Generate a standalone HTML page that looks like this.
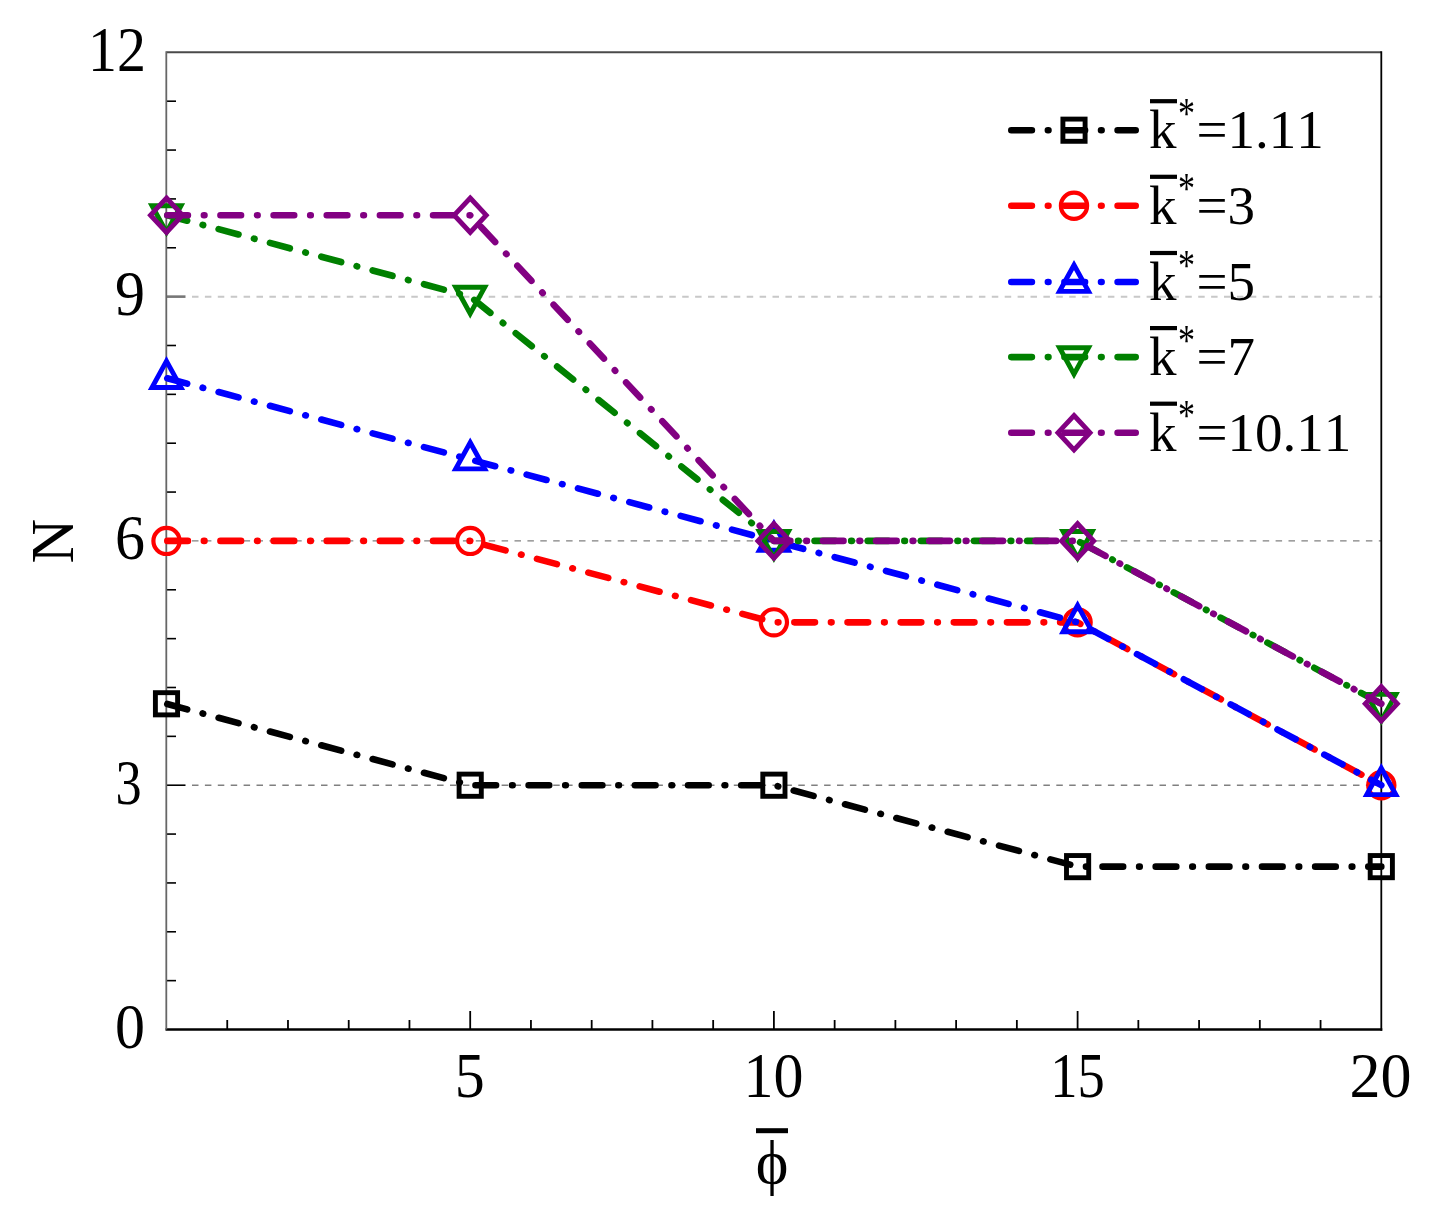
<!DOCTYPE html>
<html><head><meta charset="utf-8"><title>N vs phi</title>
<style>
html,body{margin:0;padding:0;background:#fff;}
body{width:1444px;height:1223px;overflow:hidden;}
svg{display:block;}
text{font-family:"Liberation Serif","Times New Roman",serif;fill:#000;font-kerning:none;}
</style></head><body>
<svg width="1444" height="1223" viewBox="0 0 1444 1223">
<rect width="1444" height="1223" fill="#fff"/>

<line x1="192" y1="785.21" x2="1381.3" y2="785.21" stroke="#808080" stroke-width="1.4" stroke-dasharray="6.5 6.4"/>
<line x1="192" y1="540.92" x2="1381.3" y2="540.92" stroke="#808080" stroke-width="1.4" stroke-dasharray="6.5 6.4"/>
<line x1="192" y1="296.63" x2="1381.3" y2="296.63" stroke="#c8c8c8" stroke-width="2" stroke-dasharray="6.5 6.4"/>
<line x1="166.5" y1="980.64" x2="176.0" y2="980.64" stroke="#000" stroke-width="1.6"/>
<line x1="166.5" y1="931.78" x2="176.0" y2="931.78" stroke="#000" stroke-width="1.6"/>
<line x1="166.5" y1="882.93" x2="176.0" y2="882.93" stroke="#000" stroke-width="1.6"/>
<line x1="166.5" y1="834.07" x2="176.0" y2="834.07" stroke="#000" stroke-width="1.6"/>
<line x1="166.5" y1="785.21" x2="185.5" y2="785.21" stroke="#000" stroke-width="1.6"/>
<line x1="166.5" y1="736.35" x2="176.0" y2="736.35" stroke="#000" stroke-width="1.6"/>
<line x1="166.5" y1="687.49" x2="176.0" y2="687.49" stroke="#000" stroke-width="1.6"/>
<line x1="166.5" y1="638.64" x2="176.0" y2="638.64" stroke="#000" stroke-width="1.6"/>
<line x1="166.5" y1="589.78" x2="176.0" y2="589.78" stroke="#000" stroke-width="1.6"/>
<line x1="166.5" y1="540.92" x2="185.5" y2="540.92" stroke="#000" stroke-width="1.6"/>
<line x1="166.5" y1="492.06" x2="176.0" y2="492.06" stroke="#000" stroke-width="1.6"/>
<line x1="166.5" y1="443.20" x2="176.0" y2="443.20" stroke="#000" stroke-width="1.6"/>
<line x1="166.5" y1="394.35" x2="176.0" y2="394.35" stroke="#000" stroke-width="1.6"/>
<line x1="166.5" y1="345.49" x2="176.0" y2="345.49" stroke="#000" stroke-width="1.6"/>
<line x1="166.5" y1="296.63" x2="185.5" y2="296.63" stroke="#777" stroke-width="2.6"/>
<line x1="166.5" y1="247.77" x2="176.0" y2="247.77" stroke="#000" stroke-width="1.6"/>
<line x1="166.5" y1="198.91" x2="176.0" y2="198.91" stroke="#000" stroke-width="1.6"/>
<line x1="166.5" y1="150.06" x2="176.0" y2="150.06" stroke="#000" stroke-width="1.6"/>
<line x1="166.5" y1="101.20" x2="176.0" y2="101.20" stroke="#000" stroke-width="1.6"/>
<line x1="227.24" y1="1029.5" x2="227.24" y2="1020.0" stroke="#000" stroke-width="1.8"/>
<line x1="287.98" y1="1029.5" x2="287.98" y2="1020.0" stroke="#000" stroke-width="1.8"/>
<line x1="348.72" y1="1029.5" x2="348.72" y2="1020.0" stroke="#000" stroke-width="1.8"/>
<line x1="409.46" y1="1029.5" x2="409.46" y2="1020.0" stroke="#000" stroke-width="1.8"/>
<line x1="470.20" y1="1029.5" x2="470.20" y2="1011.0" stroke="#000" stroke-width="1.8"/>
<line x1="530.94" y1="1029.5" x2="530.94" y2="1020.0" stroke="#000" stroke-width="1.8"/>
<line x1="591.68" y1="1029.5" x2="591.68" y2="1020.0" stroke="#000" stroke-width="1.8"/>
<line x1="652.42" y1="1029.5" x2="652.42" y2="1020.0" stroke="#000" stroke-width="1.8"/>
<line x1="713.16" y1="1029.5" x2="713.16" y2="1020.0" stroke="#000" stroke-width="1.8"/>
<line x1="773.90" y1="1029.5" x2="773.90" y2="1011.0" stroke="#000" stroke-width="1.8"/>
<line x1="834.64" y1="1029.5" x2="834.64" y2="1020.0" stroke="#000" stroke-width="1.8"/>
<line x1="895.38" y1="1029.5" x2="895.38" y2="1020.0" stroke="#000" stroke-width="1.8"/>
<line x1="956.12" y1="1029.5" x2="956.12" y2="1020.0" stroke="#000" stroke-width="1.8"/>
<line x1="1016.86" y1="1029.5" x2="1016.86" y2="1020.0" stroke="#000" stroke-width="1.8"/>
<line x1="1077.60" y1="1029.5" x2="1077.60" y2="1011.0" stroke="#000" stroke-width="1.8"/>
<line x1="1138.34" y1="1029.5" x2="1138.34" y2="1020.0" stroke="#000" stroke-width="1.8"/>
<line x1="1199.08" y1="1029.5" x2="1199.08" y2="1020.0" stroke="#000" stroke-width="1.8"/>
<line x1="1259.82" y1="1029.5" x2="1259.82" y2="1020.0" stroke="#000" stroke-width="1.8"/>
<line x1="1320.56" y1="1029.5" x2="1320.56" y2="1020.0" stroke="#000" stroke-width="1.8"/>
<line x1="166.5" y1="52.34" x2="1381.30" y2="52.34" stroke="#4a4a4a" stroke-width="2"/>
<line x1="1381.30" y1="51.34" x2="1381.30" y2="1030.70" stroke="#000" stroke-width="1.8"/>
<line x1="165.5" y1="1029.50" x2="1382.30" y2="1029.50" stroke="#000" stroke-width="2.3"/>
<line x1="166.3" y1="51.34" x2="166.3" y2="1029.50" stroke="#666" stroke-width="1.8"/>
<polyline points="166.50,703.78 470.20,785.21 773.90,785.21 1077.60,866.64 1381.30,866.64" fill="none" stroke="#000000" stroke-width="6.6" stroke-dasharray="20.6 15.975 0.6 15.975" stroke-dashoffset="-0.8" stroke-linejoin="round" stroke-linecap="round"/>
<rect x="155.40" y="692.68" width="22.20" height="22.20" fill="none" stroke="#000000" stroke-width="4.9" stroke-linejoin="miter"/>
<rect x="459.10" y="774.11" width="22.20" height="22.20" fill="none" stroke="#000000" stroke-width="4.9" stroke-linejoin="miter"/>
<rect x="762.80" y="774.11" width="22.20" height="22.20" fill="none" stroke="#000000" stroke-width="4.9" stroke-linejoin="miter"/>
<rect x="1066.50" y="855.54" width="22.20" height="22.20" fill="none" stroke="#000000" stroke-width="4.9" stroke-linejoin="miter"/>
<rect x="1370.20" y="855.54" width="22.20" height="22.20" fill="none" stroke="#000000" stroke-width="4.9" stroke-linejoin="miter"/>
<polyline points="166.50,540.92 470.20,540.92 773.90,622.35 1077.60,622.35 1381.30,785.21" fill="none" stroke="#ff0000" stroke-width="6.6" stroke-dasharray="20.6 15.975 0.6 15.975" stroke-dashoffset="-0.8" stroke-linejoin="round" stroke-linecap="round"/>
<circle cx="166.50" cy="540.92" r="13.1" fill="none" stroke="#ff0000" stroke-width="4.2" stroke-linejoin="miter"/>
<circle cx="470.20" cy="540.92" r="13.1" fill="none" stroke="#ff0000" stroke-width="4.2" stroke-linejoin="miter"/>
<circle cx="773.90" cy="622.35" r="13.1" fill="none" stroke="#ff0000" stroke-width="4.2" stroke-linejoin="miter"/>
<circle cx="1077.60" cy="622.35" r="13.1" fill="none" stroke="#ff0000" stroke-width="4.2" stroke-linejoin="miter"/>
<circle cx="1381.30" cy="785.21" r="13.1" fill="none" stroke="#ff0000" stroke-width="4.2" stroke-linejoin="miter"/>
<polyline points="166.50,378.06 470.20,459.49 773.90,540.92 1077.60,622.35 1381.30,785.21" fill="none" stroke="#0000ff" stroke-width="6.6" stroke-dasharray="20.6 15.975 0.6 15.975" stroke-dashoffset="-0.8" stroke-linejoin="round" stroke-linecap="round"/>
<polygon points="166.50,361.06 181.00,387.46 152.00,387.46" fill="none" stroke="#0000ff" stroke-width="4.9" stroke-linejoin="miter"/>
<polygon points="470.20,442.49 484.70,468.89 455.70,468.89" fill="none" stroke="#0000ff" stroke-width="4.9" stroke-linejoin="miter"/>
<polygon points="773.90,523.92 788.40,550.32 759.40,550.32" fill="none" stroke="#0000ff" stroke-width="4.9" stroke-linejoin="miter"/>
<polygon points="1077.60,605.35 1092.10,631.75 1063.10,631.75" fill="none" stroke="#0000ff" stroke-width="4.9" stroke-linejoin="miter"/>
<polygon points="1381.30,768.21 1395.80,794.61 1366.80,794.61" fill="none" stroke="#0000ff" stroke-width="4.9" stroke-linejoin="miter"/>
<polyline points="166.50,215.20 470.20,296.63 773.90,540.92 1077.60,540.92 1381.30,703.78" fill="none" stroke="#008000" stroke-width="6.6" stroke-dasharray="20.6 15.975 0.6 15.975" stroke-dashoffset="-0.8" stroke-linejoin="round" stroke-linecap="round"/>
<polygon points="166.50,232.20 181.00,205.80 152.00,205.80" fill="none" stroke="#008000" stroke-width="4.9" stroke-linejoin="miter"/>
<polygon points="470.20,313.63 484.70,287.23 455.70,287.23" fill="none" stroke="#008000" stroke-width="4.9" stroke-linejoin="miter"/>
<polygon points="773.90,557.92 788.40,531.52 759.40,531.52" fill="none" stroke="#008000" stroke-width="4.9" stroke-linejoin="miter"/>
<polygon points="1077.60,557.92 1092.10,531.52 1063.10,531.52" fill="none" stroke="#008000" stroke-width="4.9" stroke-linejoin="miter"/>
<polygon points="1381.30,720.78 1395.80,694.38 1366.80,694.38" fill="none" stroke="#008000" stroke-width="4.9" stroke-linejoin="miter"/>
<polyline points="166.50,215.20 470.20,215.20 773.90,540.92 1077.60,540.92 1381.30,703.78" fill="none" stroke="#820082" stroke-width="6.6" stroke-dasharray="20.6 15.975 0.6 15.975" stroke-dashoffset="-0.8" stroke-linejoin="round" stroke-linecap="round"/>
<polygon points="166.50,198.00 182.50,215.20 166.50,232.40 150.50,215.20" fill="none" stroke="#820082" stroke-width="4.9" stroke-linejoin="miter"/>
<polygon points="470.20,198.00 486.20,215.20 470.20,232.40 454.20,215.20" fill="none" stroke="#820082" stroke-width="4.9" stroke-linejoin="miter"/>
<polygon points="773.90,523.72 789.90,540.92 773.90,558.12 757.90,540.92" fill="none" stroke="#820082" stroke-width="4.9" stroke-linejoin="miter"/>
<polygon points="1077.60,523.72 1093.60,540.92 1077.60,558.12 1061.60,540.92" fill="none" stroke="#820082" stroke-width="4.9" stroke-linejoin="miter"/>
<polygon points="1381.30,686.58 1397.30,703.78 1381.30,720.98 1365.30,703.78" fill="none" stroke="#820082" stroke-width="4.9" stroke-linejoin="miter"/>
<line x1="1011.3" y1="130.2" x2="1135.7" y2="130.2" stroke="#000000" stroke-width="6.6" stroke-dasharray="20.6 15.975 0.6 15.975" stroke-linecap="round"/>
<rect x="1062.90" y="119.10" width="22.20" height="22.20" fill="none" stroke="#000000" stroke-width="4.9" stroke-linejoin="miter"/>
<text x="1149" y="148.2" font-size="55">k</text>
<line x1="1150" y1="101.2" x2="1177" y2="101.2" stroke="#000" stroke-width="4.2"/>
<text transform="translate(1178,127.8) scale(1,1.3)" font-size="34">*</text>
<text x="1196.4" y="148.2" font-size="55">=1.11</text>
<line x1="1011.3" y1="205.8" x2="1135.7" y2="205.8" stroke="#ff0000" stroke-width="6.6" stroke-dasharray="20.6 15.975 0.6 15.975" stroke-linecap="round"/>
<circle cx="1074.00" cy="205.80" r="13.1" fill="none" stroke="#ff0000" stroke-width="4.2" stroke-linejoin="miter"/>
<text x="1149" y="223.8" font-size="55">k</text>
<line x1="1150" y1="176.8" x2="1177" y2="176.8" stroke="#000" stroke-width="4.2"/>
<text transform="translate(1178,203.4) scale(1,1.3)" font-size="34">*</text>
<text x="1196.4" y="223.8" font-size="55">=3</text>
<line x1="1011.3" y1="282.0" x2="1135.7" y2="282.0" stroke="#0000ff" stroke-width="6.6" stroke-dasharray="20.6 15.975 0.6 15.975" stroke-linecap="round"/>
<polygon points="1074.00,265.00 1088.50,291.40 1059.50,291.40" fill="none" stroke="#0000ff" stroke-width="4.9" stroke-linejoin="miter"/>
<text x="1149" y="300.0" font-size="55">k</text>
<line x1="1150" y1="253.0" x2="1177" y2="253.0" stroke="#000" stroke-width="4.2"/>
<text transform="translate(1178,279.6) scale(1,1.3)" font-size="34">*</text>
<text x="1196.4" y="300.0" font-size="55">=5</text>
<line x1="1011.3" y1="357.1" x2="1135.7" y2="357.1" stroke="#008000" stroke-width="6.6" stroke-dasharray="20.6 15.975 0.6 15.975" stroke-linecap="round"/>
<polygon points="1074.00,374.10 1088.50,347.70 1059.50,347.70" fill="none" stroke="#008000" stroke-width="4.9" stroke-linejoin="miter"/>
<text x="1149" y="375.1" font-size="55">k</text>
<line x1="1150" y1="328.1" x2="1177" y2="328.1" stroke="#000" stroke-width="4.2"/>
<text transform="translate(1178,354.7) scale(1,1.3)" font-size="34">*</text>
<text x="1196.4" y="375.1" font-size="55">=7</text>
<line x1="1011.3" y1="432.7" x2="1135.7" y2="432.7" stroke="#820082" stroke-width="6.6" stroke-dasharray="20.6 15.975 0.6 15.975" stroke-linecap="round"/>
<polygon points="1074.00,415.50 1090.00,432.70 1074.00,449.90 1058.00,432.70" fill="none" stroke="#820082" stroke-width="4.9" stroke-linejoin="miter"/>
<text x="1149" y="450.7" font-size="55">k</text>
<line x1="1150" y1="403.7" x2="1177" y2="403.7" stroke="#000" stroke-width="4.2"/>
<text transform="translate(1178,430.3) scale(1,1.3)" font-size="34">*</text>
<text x="1196.4" y="450.7" font-size="55">=10.11</text>
<text transform="translate(145,1047.8) scale(1,1.05)" font-size="60" text-anchor="end">0</text>
<g transform="translate(15.10,0) scale(0.8720,1)"><text transform="translate(145,803.5) scale(1,1.05)" font-size="60" text-anchor="end">3</text></g>
<text transform="translate(145,559.2) scale(1,1.05)" font-size="60" text-anchor="end">6</text>
<text transform="translate(145,314.9) scale(1,1.05)" font-size="60" text-anchor="end">9</text>
<g transform="translate(6.02,0) scale(0.9654,1)"><text transform="translate(145,70.6) scale(1,1.05)" font-size="60" text-anchor="end">12</text></g>
<text transform="translate(469.7,1096.5) scale(1,1.05)" font-size="60" text-anchor="middle">5</text>
<text transform="translate(773.4,1096.5) scale(1,1.05)" font-size="60" text-anchor="middle">10</text>
<g transform="translate(97.98,0) scale(0.9094,1)"><text transform="translate(1077.1,1096.5) scale(1,1.05)" font-size="60" text-anchor="middle">15</text></g>
<g transform="translate(-47.94,0) scale(1.0345,1)"><text transform="translate(1380.8,1096.5) scale(1,1.05)" font-size="60" text-anchor="middle">20</text></g>
<text transform="translate(73,541) rotate(-90)" font-size="62" text-anchor="middle">N</text>
<line x1="756" y1="1130.7" x2="788" y2="1130.7" stroke="#000" stroke-width="5"/>
<text x="772" y="1183" font-size="62" text-anchor="middle">ϕ</text>
</svg>
</body></html>
